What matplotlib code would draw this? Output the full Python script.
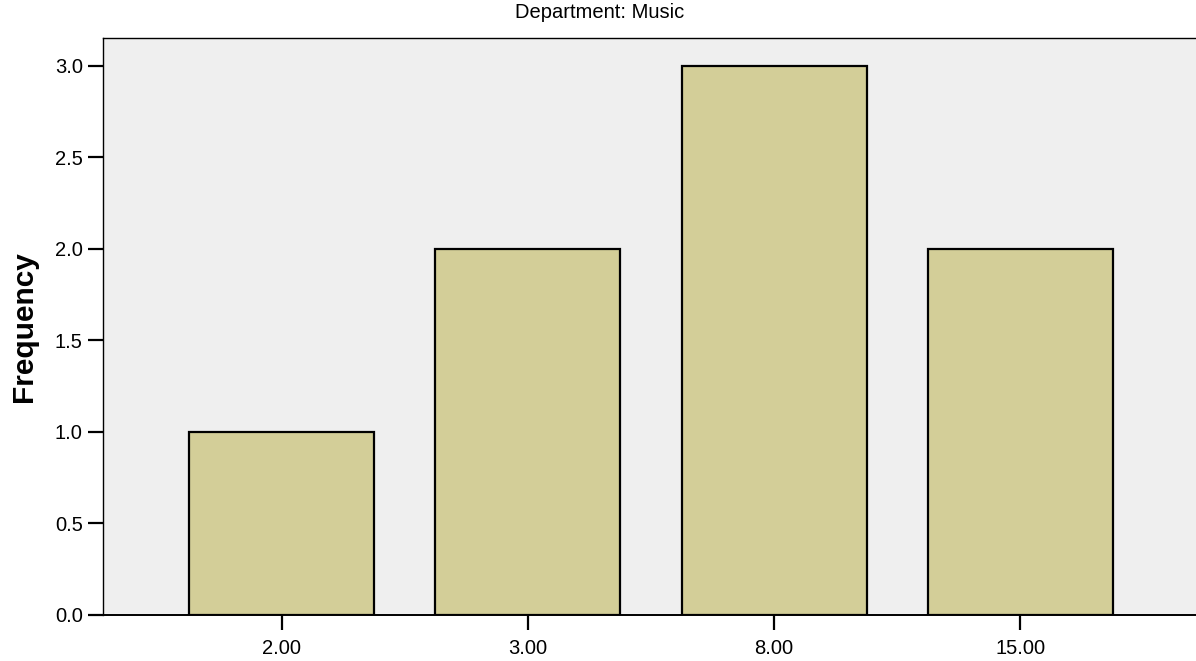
import matplotlib.pyplot as plt

# values
categories = ["2.00", "3.00", "8.00", "15.00"]
frequency = [1, 2, 3, 2]
y_ticks = [0.0, 0.5, 1.0, 1.5, 2.0, 2.5, 3.0]

plt.rcParams['font.family'] = ['Liberation Sans', 'DejaVu Sans']

fig = plt.figure(figsize=(11.96, 6.61), dpi=100)
ax = fig.add_axes([103 / 1196, 46 / 661, 1096 / 1196, 577.5 / 661])
ax.set_facecolor("#efefef")

x = range(len(categories))
ax.bar(x, frequency, width=0.752, color="#d3ce98", edgecolor="black",
       linewidth=1.6, zorder=3)

ax.set_xlim(-0.727, len(categories) - 1 + 0.727)
ax.set_ylim(0, 3.153)
ax.set_xticks(list(x))
ax.set_xticklabels(categories)
ax.set_yticks(y_ticks)
ax.set_yticklabels([f"{v:.1f}" for v in y_ticks])

ax.tick_params(axis="both", direction="out", length=11, width=1.6,
               labelsize=14.5, pad=3.5, colors="black")
ax.tick_params(axis="x", pad=6.5)

for side in ["left", "top", "bottom"]:
    ax.spines[side].set_color("black")
    ax.spines[side].set_linewidth(1.0)
ax.spines["bottom"].set_linewidth(1.4)
ax.spines["right"].set_visible(False)

ax.set_ylabel("Frequency", fontsize=21.5, fontweight="bold", labelpad=12)

fig.text(600 / 1196, 1 - 12.5 / 661, "Department: Music", fontsize=14.5,
         ha="center", va="center")

fig.savefig("out.png", dpi=100)
